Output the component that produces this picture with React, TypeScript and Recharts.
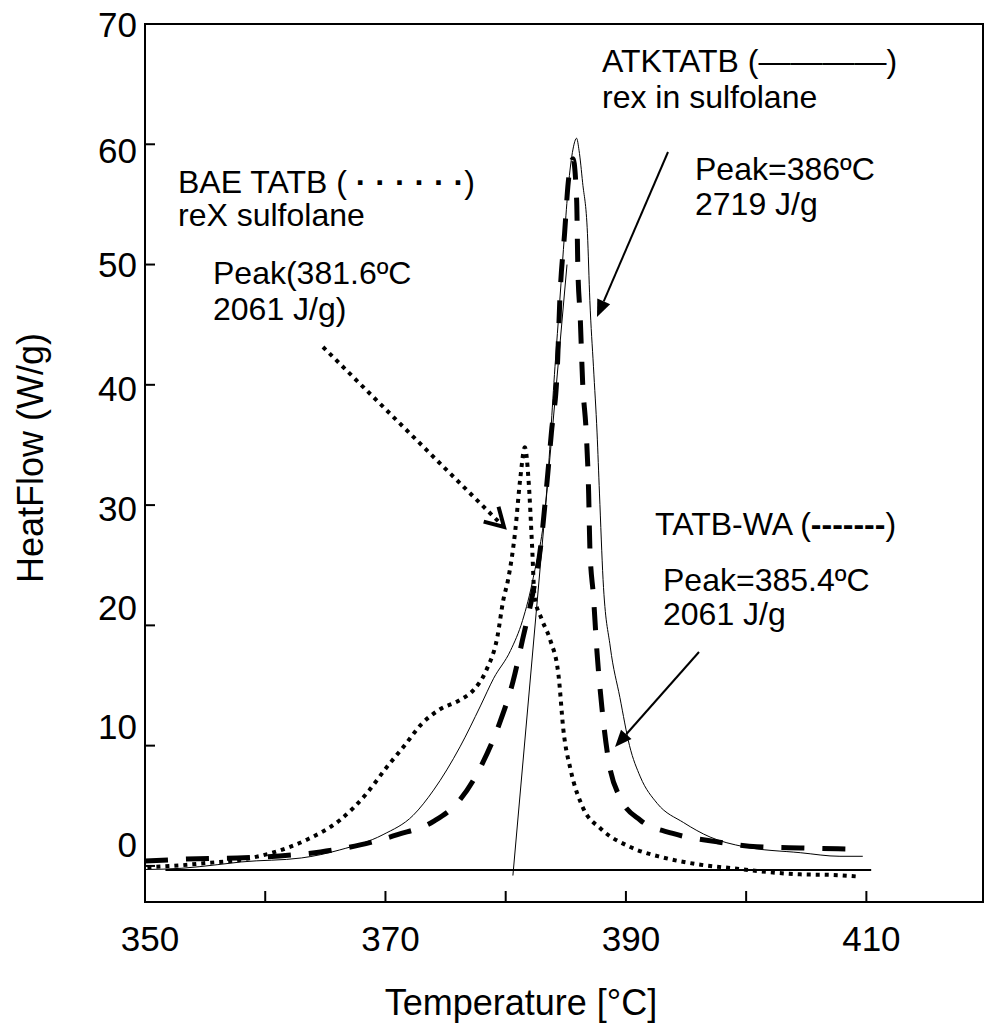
import React from 'react';
import { LineChart, Line, XAxis, YAxis, ReferenceLine, ReferenceArea } from 'recharts';

// ATKTATB rex in sulfolane (solid)
const atkTemp = [350, 353, 356, 358, 363, 366.2, 369.8, 372.3, 374, 376.2, 377.9, 379, 380.4, 381.4, 382.3, 383.4, 384.1, 384.5, 384.9, 385.2, 385.6, 385.9, 386.1, 386.4, 386.8, 387, 387.3, 387.6, 387.8, 388.1, 388.7, 389.5, 390.3, 391.2, 392.6, 394.8, 397, 399.8, 404.5, 407.8, 409.7];
const atkFlow = [-0.3, -0.2, 0.1, 0.33, 0.66, 1.33, 2.6, 4.2, 6.3, 9.9, 13.3, 15.6, 17.9, 20.4, 24, 31, 41.5, 47, 52.6, 56.4, 59.6, 60.5, 59.5, 56.8, 52.6, 47, 41.5, 36, 31, 23.8, 18.2, 14, 10, 7.4, 5.2, 3.6, 2.4, 1.6, 1.1, 0.8, 0.8];

// TATB-WA (dashed)
const waTemp = [350, 354.4, 357.7, 361.2, 364.6, 367.9, 371, 374, 376.2, 378, 379.5, 380.6, 381.4, 382.3, 382.9, 383.4, 383.8, 384.3, 384.5, 384.9, 385.2, 385.6, 385.9, 386, 386.2, 386.4, 386.7, 386.9, 387, 387.3, 387.6, 388, 388.5, 389.5, 391.2, 393.9, 397.6, 400.9, 404.5, 408.9];
const waFlow = [0.4, 0.6, 0.66, 0.83, 1.16, 1.75, 2.6, 3.7, 5.5, 8.4, 11.9, 15.3, 18.8, 22.9, 26.5, 31.5, 36, 41.5, 47, 52.6, 56.8, 58.8, 55.4, 49.8, 45.6, 40.2, 36, 31, 26.5, 22.4, 17.7, 13.2, 9.1, 5.7, 3.8, 2.7, 2.0, 1.6, 1.5, 1.4];

// BAE TATB reX sulfolane (dotted)
const baeTemp = [350.2, 352.3, 355.2, 357.9, 360.6, 363.5, 366.2, 368.5, 370.1, 371.5, 373.1, 374.5, 376.2, 377.3, 378.4, 379.3, 379.8, 380.2, 380.8, 381.2, 381.6, 381.9, 382.2, 382.4, 383, 383.7, 384.4, 384.8, 385.4, 386.4, 387.9, 390.3, 393.1, 396.2, 398.9, 401.7, 404.5, 407.2, 409.5];
const baeFlow = [-0.1, 0, 0.25, 0.5, 1.1, 2.2, 3.8, 6.1, 8.2, 9.9, 11.9, 13, 13.8, 14.6, 16.3, 19, 22.1, 23.8, 27.9, 32.1, 34.8, 32.1, 26.5, 22.4, 20.5, 18.8, 15.8, 11.3, 8, 4.9, 3.1, 1.6, 0.7, 0.1, -0.2, -0.5, -0.7, -0.75, -0.9];

// baseline and onset tangent
const baseTemp = [351.7, 410.4];
const baseFlow = [-0.33, -0.33];
const tangentTemp = [380.6, 385.1];
const tangentFlow = [-0.8, 50];

const xTicks = [350, 360, 370, 380, 390, 400, 410];
const xLabels = [350, 370, 390, 410];
const yTicks = [0, 10, 20, 30, 40, 50, 60, 70];

const FONT = '"Liberation Sans", Arial, Helvetica, sans-serif';
const yLabelShift: Record<number, number> = { 70: 1, 60: 6, 50: 0, 40: 4, 30: 3, 20: -18, 10: -19, 0: -21 };

const toPoints = (ts: number[], vs: number[]) => ts.map((t, i) => ({ t, v: vs[i] }));

const XTick = ({ x, y, payload }: any) => {
  if (!xLabels.includes(payload.value)) return null;
  return (
    <text x={x + 5} y={y} dy="0.71em" textAnchor="middle" fontSize={35} fontFamily={FONT} fill="#000">
      {payload.value}
    </text>
  );
};

const YTick = ({ x, y, payload }: any) => (
  <text x={x} y={y + (yLabelShift[payload.value] ?? 0)} dy="0.355em" textAnchor="end" fontSize={35} fontFamily={FONT} fill="#000">
    {payload.value}
  </text>
);

// filled arrow: line plus triangle head
const FilledArrow = ({ x1, y1, x2, y2 }: any) => {
  const L = Math.hypot(x2 - x1, y2 - y1);
  const ux = (x2 - x1) / L, uy = (y2 - y1) / L;
  const len = 17, half = 7;
  const bx = x2 - ux * len, by = y2 - uy * len;
  const pts = `${x2},${y2} ${bx - uy * half},${by + ux * half} ${bx + uy * half},${by - ux * half}`;
  return (
    <g>
      <line x1={x1} y1={y1} x2={bx} y2={by} stroke="#000" strokeWidth={2} />
      <polygon points={pts} fill="#000" />
    </g>
  );
};

const OpenArrow = ({ x1, y1, x2, y2 }: any) => {
  const L = Math.hypot(x2 - x1, y2 - y1);
  const ux = (x2 - x1) / L, uy = (y2 - y1) / L;
  const len = 21, a = Math.PI / 6;
  const c = Math.cos(a), s = Math.sin(a);
  const ax = -ux * c + uy * s, ay = -uy * c - ux * s;
  const bx = -ux * c - uy * s, by = -uy * c + ux * s;
  return (
    <g>
      <line x1={x1} y1={y1} x2={x2 - ux * 6} y2={y2 - uy * 6} stroke="#000" strokeWidth={4} strokeDasharray="4 5" />
      <polyline points={`${x2 + ax * len},${y2 + ay * len} ${x2},${y2} ${x2 + bx * len},${y2 + by * len}`} fill="none" stroke="#000" strokeWidth={4} />
    </g>
  );
};

export default function App() {
  const txt = { fontFamily: FONT, fontSize: 32, fill: '#000' } as const;
  return (
    <div style={{ position: 'absolute', left: 0, top: 0, width: 985, height: 1024, background: '#fff' }}>
      <LineChart width={985} height={1024} margin={{ top: 24, right: 2, left: 0, bottom: 0 }}>
        <XAxis
          type="number"
          dataKey="t"
          domain={[350, 419.7]}
          ticks={xTicks}
          allowDataOverflow
          height={122}
          tickSize={-11}
          tickMargin={35}
          tick={<XTick />}
          axisLine={{ stroke: '#000', strokeWidth: 2 }}
          tickLine={{ stroke: '#000', strokeWidth: 2 }}
        />
        <YAxis
          type="number"
          domain={[-3, 70]}
          ticks={yTicks}
          allowDataOverflow
          width={145}
          tickSize={-10}
          tickMargin={18}
          tick={<YTick />}
          axisLine={{ stroke: '#000', strokeWidth: 2 }}
          tickLine={{ stroke: '#000', strokeWidth: 2 }}
        />
        <ReferenceArea x1={350} x2={419.7} y1={-3} y2={70} fill="none" stroke="#000" strokeWidth={2} ifOverflow="visible" />
        <ReferenceLine
          segment={[{ x: baseTemp[0], y: baseFlow[0] }, { x: baseTemp[1], y: baseFlow[1] }]}
          stroke="#000"
          strokeWidth={2}
          ifOverflow="visible"
        />
        <ReferenceLine
          segment={[{ x: tangentTemp[0], y: tangentFlow[0] }, { x: tangentTemp[1], y: tangentFlow[1] }]}
          stroke="#000"
          strokeWidth={1}
          ifOverflow="visible"
        />
        <Line data={toPoints(baeTemp, baeFlow)} dataKey="v" type="monotone" stroke="#000" strokeWidth={4} strokeDasharray="4 5" dot={false} isAnimationActive={false} />
        <Line data={toPoints(waTemp, waFlow)} dataKey="v" type="monotone" stroke="#000" strokeWidth={5} strokeDasharray="23 18" dot={false} isAnimationActive={false} />
        <Line data={toPoints(atkTemp, atkFlow)} dataKey="v" type="monotone" stroke="#000" strokeWidth={1} dot={false} isAnimationActive={false} />
      </LineChart>

      <svg width={985} height={1024} style={{ position: 'absolute', left: 0, top: 0, pointerEvents: 'none' }}>
        <text x={521} y={1015} textAnchor="middle" fontFamily={FONT} fontSize={36} fill="#000">Temperature [°C]</text>
        <text transform="translate(43,458) rotate(-90)" textAnchor="middle" fontFamily={FONT} fontSize={36} fill="#000">HeatFlow (W/g)</text>

        <text x={602} y={72} {...txt}>ATKTATB  (————)</text>
        <text x={602} y={108} {...txt}>rex in sulfolane</text>
        <text x={695} y={180} {...txt}>Peak=386ºC</text>
        <text x={695} y={215} {...txt}>2719 J/g</text>

        <text x={178} y={193} {...txt}>BAE TATB (  <tspan fontWeight="bold">· · · · · ·</tspan>)</text>
        <text x={178} y={226} {...txt}>reX sulfolane</text>
        <text x={213} y={284} {...txt}>Peak(381.6ºC</text>
        <text x={213} y={320} {...txt}>2061 J/g)</text>

        <text x={655} y={535} {...txt}>TATB-WA (<tspan fontWeight="bold">-------</tspan>)</text>
        <text x={663} y={591} {...txt}>Peak=385.4ºC</text>
        <text x={663} y={625} {...txt}>2061 J/g</text>

        <FilledArrow x1={668} y1={152} x2={597} y2={317} />
        <OpenArrow x1={323} y1={347} x2={504} y2={527} />
        <FilledArrow x1={699} y1={652} x2={615} y2={747} />
      </svg>
    </div>
  );
}
